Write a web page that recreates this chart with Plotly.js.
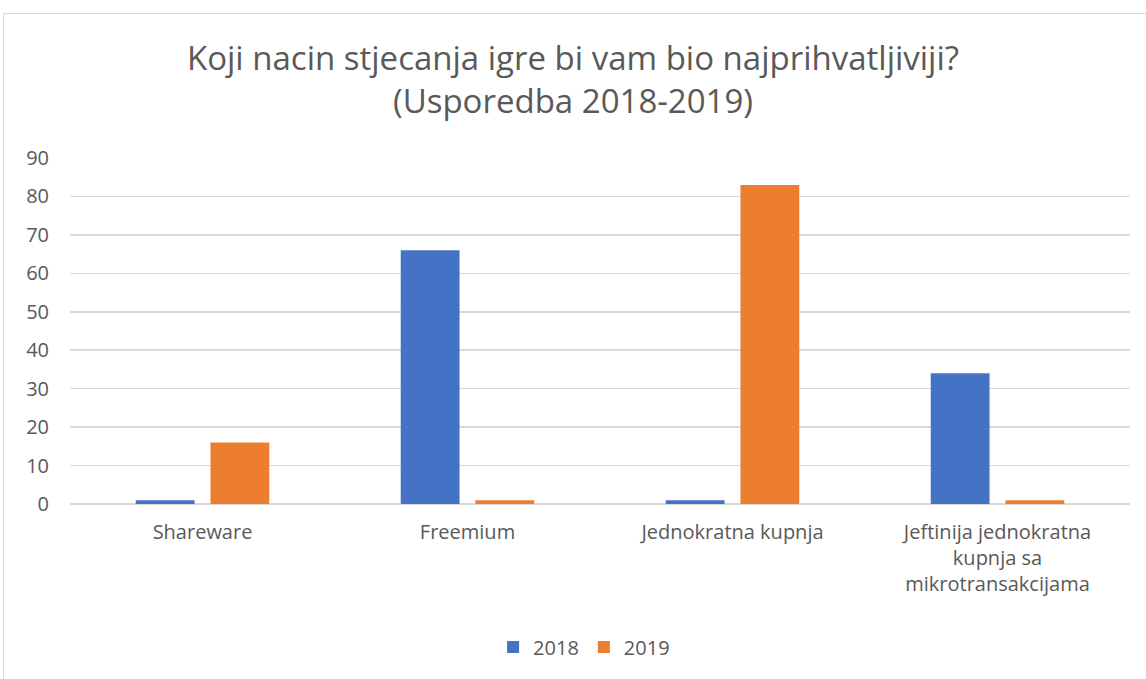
<!DOCTYPE html>
<html><head><meta charset="utf-8">
<script src="https://cdn.plot.ly/plotly-3.0.1.min.js"></script>
<style>
html,body{margin:0;padding:0;background:#fff;}
#wrap{position:relative;width:1146px;height:679px;overflow:hidden;}
#border{position:absolute;left:3px;top:13px;width:1160px;height:700px;border:1px solid #d9d9d9;box-sizing:border-box;}
#chart{position:absolute;left:0;top:0;width:1146px;height:679px;}
</style></head>
<body><div id="wrap"><div id="border"></div><div id="chart"></div></div>
<script>
const categories = ["Shareware", "Freemium", "Jednokratna kupnja", "Jeftinija jednokratna<br>kupnja sa<br>mikrotransakcijama"];
const values2018 = [1, 66, 1, 34];
const values2019 = [16, 1, 83, 1];
const seriesNames = ["2018", "2019"];
const yTicks = [0, 10, 20, 30, 40, 50, 60, 70, 80, 90];

const font = "'Open Sans', 'Noto Sans', sans-serif";
const data = [
  {type:"bar", name:seriesNames[0], x:categories, y:values2018, marker:{color:"#4472c4"}},
  {type:"bar", name:seriesNames[1], x:categories, y:values2019, marker:{color:"#ed7d31"}}
];
const layout = {
  width:1146, height:679,
  paper_bgcolor:"rgba(0,0,0,0)", plot_bgcolor:"rgba(0,0,0,0)",
  font:{family:font, color:"#595959", size:20},
  margin:{l:70, r:16, t:158, b:175},
  title:{text:"Koji nacin stjecanja igre bi vam bio najprihvatljiviji?<br>(Usporedba 2018-2019)",
    font:{size:33, color:"#595959", family:font}, x:0.5, xanchor:"center", y:1-70/679, yanchor:"middle", yref:"container"},
  barmode:"group", bargap:0.436, bargroupgap:0.213,
  xaxis:{showgrid:false, zeroline:false, showline:false, ticks:"", tickfont:{size:20}, ticklabelstandoff:14},
  yaxis:{range:[0,90], tickvals:yTicks, showgrid:true, gridcolor:"#d9d9d9", gridwidth:1.5, zeroline:true, zerolinecolor:"#d9d9d9", zerolinewidth:1.5, showline:false, ticks:"", tickfont:{size:20}, ticklabelstandoff:20},
  legend:{orientation:"h", x:0.485, xanchor:"center", y:(504-647)/346, yanchor:"middle", font:{size:20}, traceorder:"normal", itemwidth:30},
  showlegend:true
};
Plotly.newPlot("chart", data, layout, {displayModeBar:false, staticPlot:true});
</script></body></html>
